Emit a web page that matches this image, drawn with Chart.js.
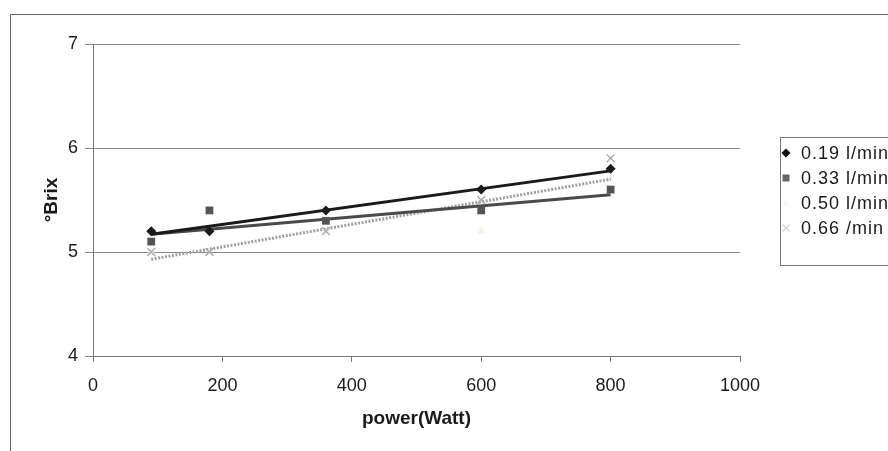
<!DOCTYPE html>
<html>
<head>
<meta charset="utf-8">
<script src="https://cdn.jsdelivr.net/npm/chart.js@4.4.1/dist/chart.umd.min.js"></script>
<style>
html,body{margin:0;padding:0;background:#fff;overflow:hidden;}
canvas{display:block;}
</style>
</head>
<body>
<canvas id="c" width="888" height="451"></canvas>
<script>
// ---- data ----
const powers = [90, 180, 360, 600, 800];
const brix019 = [5.2, 5.2, 5.4, 5.6, 5.8];
const brix033 = [5.1, 5.4, 5.3, 5.4, 5.6];
const brix050 = [5.0, 5.2, 5.2, 5.2, 5.7];
const brix066 = [5.0, 5.0, 5.2, 5.5, 5.9];
// trend line end points
const trendX = [90, 800];
const trend019 = [5.17, 5.78];
const trend033 = [5.17, 5.55];
const trend066 = [4.93, 5.70];
const seriesLabels = ['0.19 l/min', '0.33 l/min', '0.50 l/min', '0.66 /min'];
const xTicks = [0, 200, 400, 600, 800, 1000];
const yTicks = [4, 5, 6, 7];

const pts = (xs, ys) => xs.map((x, i) => ({x: x, y: ys[i]}));

const FONT = '"Liberation Sans", Arial, sans-serif';

const frame = {
  id: 'frame',
  beforeDraw(chart) {
    const ctx = chart.ctx;
    ctx.save();
    ctx.fillStyle = '#fff';
    ctx.fillRect(0, 0, chart.width, chart.height);
    ctx.strokeStyle = '#666';
    ctx.lineWidth = 1;
    ctx.beginPath();
    ctx.moveTo(10.5, 451);
    ctx.lineTo(10.5, 14.5);
    ctx.lineTo(888, 14.5);
    ctx.stroke();
    ctx.restore();
  }
};

const legendBox = {
  id: 'legendBox',
  afterDraw(chart) {
    const ctx = chart.ctx;
    ctx.save();
    ctx.strokeStyle = '#777';
    ctx.lineWidth = 1;
    ctx.strokeRect(780.5, 137.5, 130, 128);
    const rows = [153, 178, 203, 228];
    const markerX = 786;
    ctx.font = '18px ' + FONT;
    ctx.fillStyle = '#1a1a1a';
    ctx.textBaseline = 'middle';
    try { ctx.letterSpacing = '1px'; } catch (e) {}
    seriesLabels.forEach((lab, i) => {
      const y = rows[i];
      ctx.save();
      if (i === 0) {
        ctx.fillStyle = '#111';
        ctx.beginPath();
        ctx.moveTo(markerX, y - 4.5); ctx.lineTo(markerX + 4.5, y);
        ctx.lineTo(markerX, y + 4.5); ctx.lineTo(markerX - 4.5, y);
        ctx.closePath(); ctx.fill();
      } else if (i === 1) {
        ctx.fillStyle = '#666';
        ctx.fillRect(markerX - 3.5, y - 3.5, 7, 7);
      } else if (i === 2) {
        ctx.fillStyle = '#f7f7ee';
        ctx.beginPath();
        ctx.moveTo(markerX, y - 4); ctx.lineTo(markerX + 4, y + 3); ctx.lineTo(markerX - 4, y + 3);
        ctx.closePath(); ctx.fill();
      } else {
        ctx.strokeStyle = '#d0d0d0';
        ctx.lineWidth = 1.2;
        ctx.beginPath();
        ctx.moveTo(markerX - 3.5, y - 3.5); ctx.lineTo(markerX + 3.5, y + 3.5);
        ctx.moveTo(markerX + 3.5, y - 3.5); ctx.lineTo(markerX - 3.5, y + 3.5);
        ctx.stroke();
      }
      ctx.restore();
      ctx.fillText(lab, 801, y + 1);
    });
    ctx.restore();
  }
};

new Chart(document.getElementById('c'), {
  type: 'scatter',
  data: {
    datasets: [
      {label: 't019', type: 'line', data: pts(trendX, trend019), borderColor: '#1a1a1a', borderWidth: 3, pointRadius: 0, fill: false, order: 3},
      {label: 't033', type: 'line', data: pts(trendX, trend033), borderColor: '#4a4a4a', borderWidth: 3, pointRadius: 0, fill: false, order: 4},
      {label: 't066', type: 'line', data: pts(trendX, trend066), borderColor: '#a0a0a0', borderWidth: 3, borderDash: [2, 1.5], pointRadius: 0, fill: false, order: 5},
      {label: seriesLabels[0], data: pts(powers, brix019), pointStyle: 'rectRot', pointRadius: 5, backgroundColor: '#1a1a1a', borderColor: '#1a1a1a', borderWidth: 0, order: 1},
      {label: seriesLabels[1], data: pts(powers, brix033), pointStyle: 'rect', pointRadius: 5.5, backgroundColor: '#555', borderColor: '#555', borderWidth: 0, order: 2},
      {label: seriesLabels[2], data: pts(powers, brix050), pointStyle: 'triangle', pointRadius: 4.5, backgroundColor: '#f2f2e6', borderColor: '#f2f2e6', borderWidth: 0, order: 6},
      {label: seriesLabels[3], data: pts(powers, brix066), pointStyle: 'crossRot', pointRadius: 5.5, backgroundColor: '#b0b0b0', borderColor: '#b0b0b0', borderWidth: 1.5, order: 0}
    ]
  },
  options: {
    responsive: false,
    animation: false,
    layout: {padding: {left: 0, right: 148, top: 44, bottom: 0}},
    plugins: {legend: {display: false}, tooltip: {enabled: false}},
    scales: {
      x: {
        type: 'linear', min: 0, max: 1000,
        afterBuildTicks: s => { s.ticks = xTicks.map(v => ({value: v})); },
        afterFit: s => { s.height = 95; },
        grid: {display: true, drawOnChartArea: false, drawTicks: true, tickLength: 6, color: '#777'},
        border: {display: true, color: '#777', width: 1},
        ticks: {color: '#1a1a1a', font: {family: FONT, size: 18}, padding: 13, maxRotation: 0, callback: v => String(v)},
        title: {display: true, text: 'power(Watt)', color: '#1a1a1a', font: {family: FONT, size: 19, weight: 'bold'}, padding: {bottom: 21, top: 0}}
      },
      y: {
        type: 'linear', min: 4, max: 7,
        afterBuildTicks: s => { s.ticks = yTicks.map(v => ({value: v})); },
        afterFit: s => { s.width = 93; },
        grid: {display: true, drawOnChartArea: true, drawTicks: true, tickLength: 8, color: '#888'},
        border: {display: true, color: '#777', width: 1},
        ticks: {color: '#1a1a1a', font: {family: FONT, size: 18}, padding: 7, callback: v => String(v)},
        title: {display: true, text: '°Brix', color: '#1a1a1a', font: {family: FONT, size: 19, weight: 'bold'}, padding: {top: 40, bottom: 0}}
      }
    }
  },
  plugins: [frame, legendBox]
});
</script>
</body>
</html>
